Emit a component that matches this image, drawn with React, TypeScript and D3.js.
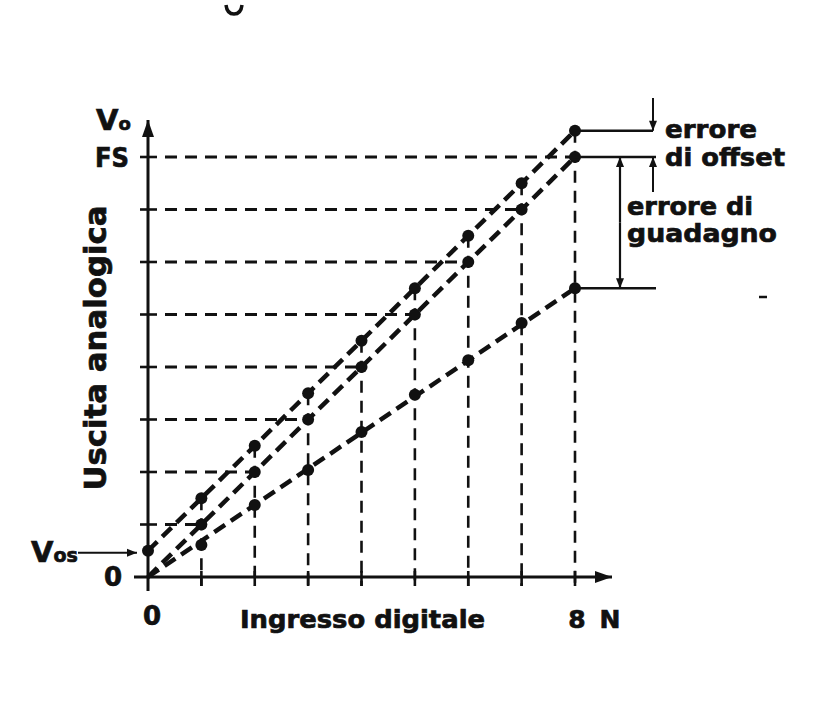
import React from "react";
import * as d3 from "d3";

const steps = [0, 1, 2, 3, 4, 5, 6, 7, 8];
const idealValues = [0, 1, 2, 3, 4, 5, 6, 7, 8];
const offsetValues = [0.5, 1.5, 2.5, 3.5, 4.5, 5.5, 6.5, 7.5, 8.5];
const gainValues = [0, 0.61, 1.37, 2.04, 2.76, 3.47, 4.13, 4.84, 5.5];
const levelTicks = [1, 2, 3, 4, 5, 6, 7, 8];

const W = 825;
const H = 717;
const INK = "#111";
const FONT = "'DejaVu Sans', sans-serif";

export default function App() {
  const x = d3.scaleLinear().domain([0, 8]).range([148, 575]);
  const y = d3.scaleLinear().domain([0, 8]).range([577, 157]);
  const line = d3
    .line<[number, number]>()
    .x((d) => x(d[0]))
    .y((d) => y(d[1]));

  const idealPts: [number, number][] = steps.map((s, i) => [s, idealValues[i]]);
  const offsetPts: [number, number][] = steps.map((s, i) => [s, offsetValues[i]]);
  const gainPts: [number, number][] = steps.map((s, i) => [s, gainValues[i]]);

  const x0 = x(0);
  const y0 = y(0);
  const yFS = y(8);
  const yOff = y(offsetValues[8]);
  const yGain = y(gainValues[8]);
  const xEnd = x(8);

  const diagDash = "13 7";
  const txt = { fill: INK, stroke: INK, strokeWidth: 0.7 };

  return (
    <svg
      width={W}
      height={H}
      viewBox={`0 0 ${W} ${H}`}
      style={{ position: "absolute", left: 0, top: 0, background: "#fff" }}
      fontFamily={FONT}
      fontWeight="bold"
    >
      <defs>
        <marker id="ah" viewBox="0 0 10 10" refX="10" refY="5" markerWidth="11" markerHeight="10" markerUnits="userSpaceOnUse" orient="auto">
          <path d="M0,1 L10,5 L0,9 Z" fill={INK} />
        </marker>
        <marker id="ahBig" viewBox="0 0 10 10" refX="10" refY="5" markerWidth="17" markerHeight="12" markerUnits="userSpaceOnUse" orient="auto" preserveAspectRatio="none">
          <path d="M0,0 L10,5 L0,10 Z" fill={INK} />
        </marker>
      </defs>
      <rect x="0" y="0" width={W} height={H} fill="#fff" />

      {/* fragment of a cropped glyph at the top edge */}
      <path d="M226,5 Q227,14 234,14 Q241,14 242,5" fill="none" stroke={INK} strokeWidth={3.5} />

      {/* horizontal dashed level lines */}
      {levelTicks.map((v) => (
        <g key={"h" + v}>
          <line x1={140} x2={157} y1={y(v)} y2={y(v)} stroke={INK} strokeWidth={2.6} />
          <line x1={165} x2={x(v)} y1={y(v)} y2={y(v)} stroke={INK} strokeWidth={2.8} strokeDasharray="12 8" />
        </g>
      ))}

      {/* vertical dashed lines */}
      {steps.slice(1).map((s, i) => (
        <g key={"v" + s}>
          <line x1={x(s)} x2={x(s)} y1={y(offsetValues[i + 1])} y2={y0 + 9} stroke={INK} strokeWidth={2.6} strokeDasharray="12 8" />
          <line x1={x(s)} x2={x(s)} y1={y0 - 6} y2={y0 + 9} stroke={INK} strokeWidth={2.6} />
        </g>
      ))}

      {/* diagonal characteristics */}
      <path d={line(offsetPts) || ""} fill="none" stroke={INK} strokeWidth={4.5} strokeDasharray={diagDash} />
      <path d={line(idealPts) || ""} fill="none" stroke={INK} strokeWidth={4.5} strokeDasharray={diagDash} />
      <path d={line([gainPts[0], gainPts[8]]) || ""} fill="none" stroke={INK} strokeWidth={4.5} strokeDasharray={diagDash} />

      {/* dots */}
      {offsetPts.map((p, i) => (
        <circle key={"o" + i} cx={x(p[0])} cy={y(p[1])} r={6} fill={INK} />
      ))}
      {idealPts.slice(1).map((p, i) => (
        <circle key={"i" + i} cx={x(p[0])} cy={y(p[1])} r={6} fill={INK} />
      ))}
      {gainPts.slice(1).map((p, i) => (
        <circle key={"g" + i} cx={x(p[0])} cy={y(p[1])} r={6} fill={INK} />
      ))}

      {/* axes */}
      <line x1={x0} x2={x0} y1={y0 + 14} y2={120} stroke={INK} strokeWidth={3} markerEnd="url(#ahBig)" />
      <line x1={134} x2={612} y1={y0} y2={y0} stroke={INK} strokeWidth={3} markerEnd="url(#ahBig)" />

      {/* right-side annotation lines */}
      <line x1={xEnd} x2={653} y1={yOff} y2={yOff} stroke={INK} strokeWidth={2.6} />
      <line x1={xEnd} x2={656} y1={yFS} y2={yFS} stroke={INK} strokeWidth={2.6} />
      <line x1={xEnd} x2={656} y1={yGain} y2={yGain} stroke={INK} strokeWidth={2.6} />
      <line x1={653} x2={653} y1={98} y2={yOff} stroke={INK} strokeWidth={2} markerEnd="url(#ah)" />
      <line x1={653} x2={653} y1={192} y2={yFS} stroke={INK} strokeWidth={2} markerEnd="url(#ah)" />
      <line x1={620} x2={620} y1={(yFS + yGain) / 2} y2={yFS} stroke={INK} strokeWidth={2.2} markerEnd="url(#ah)" />
      <line x1={620} x2={620} y1={(yFS + yGain) / 2} y2={yGain} stroke={INK} strokeWidth={2.2} markerEnd="url(#ah)" />
      <line x1={759} x2={767} y1={297} y2={297} stroke={INK} strokeWidth={2.5} />

      {/* Vos arrow */}
      <line x1={78} x2={137} y1={y(offsetValues[0]) + 2} y2={y(offsetValues[0]) + 2} stroke={INK} strokeWidth={2} markerEnd="url(#ah)" />

      {/* texts */}
      <text x={96} y={130} fontSize={29} {...txt}>V<tspan fontSize={18}>o</tspan></text>
      <text x={129} y={167} fontSize={27} textAnchor="end" {...txt} textLength={34} lengthAdjust="spacingAndGlyphs">FS</text>
      <text x={31} y={562} fontSize={29} {...txt}>V<tspan fontSize={19}>os</tspan></text>
      <text x={113} y={586} fontSize={26} textAnchor="middle" {...txt}>0</text>
      <text x={152} y={625} fontSize={26} textAnchor="middle" {...txt}>0</text>
      <text x={240} y={628} fontSize={25} {...txt} textLength={245} lengthAdjust="spacingAndGlyphs">Ingresso digitale</text>
      <text x={577} y={628} fontSize={25} textAnchor="middle" {...txt}>8</text>
      <text x={610} y={628} fontSize={25} textAnchor="middle" {...txt}>N</text>
      <text transform="translate(106,348) rotate(-90)" fontSize={30} textAnchor="middle" {...txt} textLength={285} lengthAdjust="spacingAndGlyphs">Uscita analogica</text>
      <text x={665} y={138} fontSize={25} {...txt} textLength={92} lengthAdjust="spacingAndGlyphs">errore</text>
      <text x={665} y={166} fontSize={25} {...txt} textLength={120} lengthAdjust="spacingAndGlyphs">di offset</text>
      <text x={627} y={215} fontSize={25} {...txt} textLength={126} lengthAdjust="spacingAndGlyphs">errore di</text>
      <text x={627} y={242} fontSize={25} {...txt} textLength={150} lengthAdjust="spacingAndGlyphs">guadagno</text>
    </svg>
  );
}
